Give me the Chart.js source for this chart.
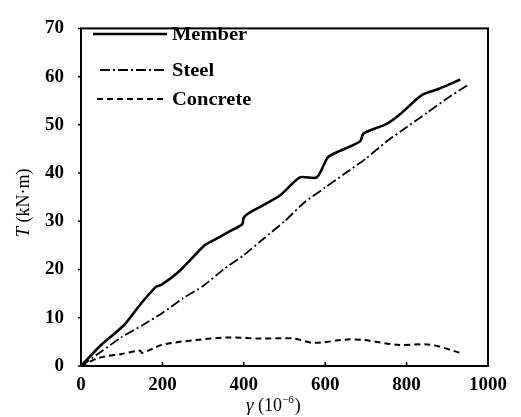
<!DOCTYPE html>
<html>
<head>
<meta charset="utf-8">
<script src="https://cdn.jsdelivr.net/npm/chart.js@4.4.7/dist/chart.umd.min.js"></script>
<style>
    html, body { margin: 0; padding: 0; background: #fff; }
    #torque_chart { display: block; }
</style>
</head>
<body>
<canvas id="torque_chart" width="521" height="417"></canvas>
<script>
// Torque vs. shear strain, member / steel / concrete contributions
var memberStrain = [0, 50, 106, 143, 184, 197, 242, 303, 324, 365, 396, 400, 414, 488, 538, 579, 607, 636, 686, 694, 751, 784, 838, 880, 932];
var memberTorque = [0, 4.4, 8.5, 12.5, 16.4, 16.8, 19.7, 25.0, 26.0, 27.9, 29.4, 30.8, 31.8, 35.3, 39.1, 39.1, 43.3, 44.6, 46.6, 48.2, 50.2, 52.2, 56.2, 57.5, 59.4];

var steelStrain = [0, 50, 100, 150, 200, 250, 300, 350, 400, 450, 500, 550, 600, 650, 700, 750, 800, 850, 900, 949];
var steelTorque = [0, 3.0, 6.0, 8.4, 11.0, 14.0, 16.6, 20.0, 23.0, 26.5, 30.0, 34.0, 37.0, 40.0, 43.0, 46.5, 49.5, 52.5, 55.5, 58.2];

var concreteStrain = [0, 45, 100, 145, 150, 200, 283, 357, 440, 522, 571, 654, 694, 777, 859, 933];
var concreteTorque = [0, 1.7, 2.5, 3.2, 2.7, 4.4, 5.4, 5.9, 5.7, 5.7, 4.8, 5.5, 5.4, 4.4, 4.4, 2.7];

var seriesNames = ['Member', 'Steel', 'Concrete'];
var xTicks = [0, 200, 400, 600, 800, 1000];
var yTicks = [0, 10, 20, 30, 40, 50, 60, 70];

const FONT = 'Liberation Serif';

function toPoints(xs, ys) {
    return xs.map((x, i) => ({ x: x, y: ys[i] }));
}

// Frame, tick marks, legend and axis titles
var decorations = {
    id: 'decorations',
    afterDraw: function(chart) {
        var ctx = chart.ctx;
        var a = chart.chartArea;
        var xs = chart.scales.x, ys = chart.scales.y;

        ctx.save();
        ctx.strokeStyle = '#000';
        ctx.lineWidth = 2;
        ctx.strokeRect(a.left, a.top, a.right - a.left, a.bottom - a.top);

        ctx.lineWidth = 1.5;
        ctx.beginPath();
        xTicks.forEach(v => {
            var px = xs.getPixelForValue(v);
            ctx.moveTo(px, a.bottom);
            ctx.lineTo(px, a.bottom - 4);
        });
        yTicks.forEach(v => {
            var py = ys.getPixelForValue(v);
            ctx.moveTo(a.left, py);
            ctx.lineTo(a.left - 3, py);
        });
        ctx.stroke();

        // legend
        ctx.fillStyle = '#000';
        ctx.textBaseline = 'middle';
        ctx.font = 'bold 19px ' + FONT;
        var rows = [
            { y: 34, x0: 93, x1: 167 },
            { y: 70, x0: 100, x1: 167 },
            { y: 99, x0: 97, x1: 163 }
        ];
        chart.data.datasets.forEach((ds, i) => {
            var r = rows[i];
            ctx.beginPath();
            ctx.lineWidth = ds.borderWidth;
            ctx.setLineDash(ds.borderDash || []);
            ctx.moveTo(r.x0, r.y);
            ctx.lineTo(r.x1, r.y);
            ctx.stroke();
            ctx.setLineDash([]);
            ctx.save();
            ctx.translate(172, r.y + 1);
            ctx.scale(1.08, 1);
            ctx.fillText(ds.label, 0, 0);
            ctx.restore();
        });

        // y title
        ctx.save();
        ctx.translate(24, 203);
        ctx.rotate(-Math.PI / 2);
        ctx.textAlign = 'left';
        ctx.textBaseline = 'middle';
        ctx.font = 'italic 19px ' + FONT;
        var t = 'T';
        var w1 = ctx.measureText(t).width;
        ctx.font = '18px ' + FONT;
        var rest = ' (kN\u00b7m)';
        var w2 = ctx.measureText(rest).width;
        var start = -(w1 + w2) / 2;
        ctx.font = 'italic 19px ' + FONT;
        ctx.fillText(t, start, 0);
        ctx.font = '18px ' + FONT;
        ctx.fillText(rest, start + w1, 0);
        ctx.restore();

        // x title
        ctx.textAlign = 'left';
        ctx.textBaseline = 'alphabetic';
        ctx.font = 'italic 19px ' + FONT;
        ctx.fillText('\u03b3', 246, 411);
        ctx.font = '18px ' + FONT;
        ctx.fillText('(10', 258, 411);
        var wp = ctx.measureText('(10').width;
        ctx.font = '11px ' + FONT;
        ctx.fillText('\u2212', 258 + wp, 403);
        var wm = ctx.measureText('\u2212').width;
        ctx.fillText('6', 258 + wp + wm, 403);
        var w6 = ctx.measureText('6').width;
        ctx.font = '18px ' + FONT;
        ctx.fillText(')', 258 + wp + wm + w6 + 1, 411);
        ctx.restore();
    }
};

function initTorqueChart() {
    const ctx = document.getElementById('torque_chart');

    var data = {
        datasets: [
            {
                label: seriesNames[0],
                data: toPoints(memberStrain, memberTorque),
                borderColor: '#000',
                borderWidth: 2.6,
                tension: 0.25
            },
            {
                label: seriesNames[1],
                data: toPoints(steelStrain, steelTorque),
                borderColor: '#000',
                borderWidth: 1.8,
                borderDash: [10, 3, 2, 3],
                tension: 0.2
            },
            {
                label: seriesNames[2],
                data: toPoints(concreteStrain, concreteTorque),
                borderColor: '#000',
                borderWidth: 2,
                borderDash: [6, 4],
                tension: 0.3
            }
        ]
    };

    var options = {
        responsive: false,
        animation: false,
        layout: {
            padding: { top: 14, right: 33, left: 0, bottom: 0 }
        },
        elements: {
            point: { radius: 0 }
        },
        scales: {
            x: {
                type: 'linear',
                min: 0,
                max: 1000,
                afterFit: function(s) { s.height = 51; },
                afterBuildTicks: function(s) { s.ticks = xTicks.map(v => ({ value: v })); },
                grid: { display: false, drawTicks: false },
                border: { display: false },
                ticks: {
                    padding: 8,
                    color: '#000',
                    maxRotation: 0,
                    callback: function(value) { return String(value); },
                    font: { family: FONT, size: 19, weight: 'bold' }
                }
            },
            y: {
                min: 0,
                max: 70,
                afterFit: function(s) { s.width = 81; },
                afterBuildTicks: function(s) { s.ticks = yTicks.map(v => ({ value: v })); },
                grid: { display: false, drawTicks: false },
                border: { display: false },
                ticks: {
                    padding: 17,
                    color: '#000',
                    callback: function(value) { return String(value); },
                    font: { family: FONT, size: 19, weight: 'bold' }
                }
            }
        },
        plugins: {
            legend: { display: false },
            tooltip: { enabled: false }
        }
    };

    return new Chart(ctx, { type: 'line', data, options, plugins: [decorations] });
}

initTorqueChart();
</script>
</body>
</html>
